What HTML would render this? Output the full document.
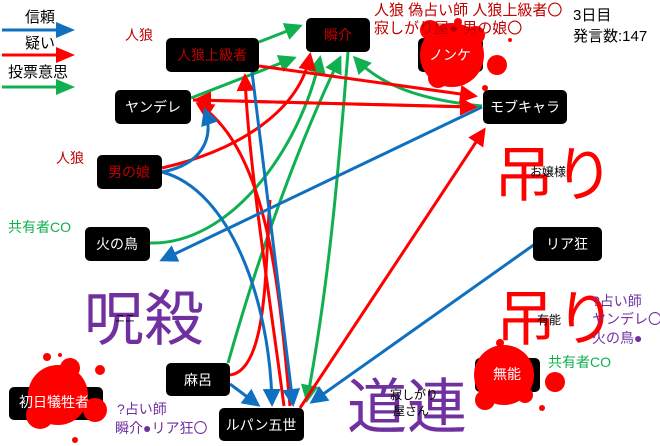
<!DOCTYPE html>
<html><head><meta charset="utf-8"><style>
html,body{margin:0;padding:0;background:#fff;}
svg{display:block;font-family:"Liberation Sans","Noto Sans CJK JP",sans-serif;}
</style></head><body>
<svg width="660" height="446" viewBox="0 0 660 446" xmlns="http://www.w3.org/2000/svg">
<defs>
<marker id="b" markerWidth="6" markerHeight="6" refX="5" refY="3" orient="auto" markerUnits="strokeWidth"><path d="M0,0 L6,3 L0,6 z" fill="#1070c0"/></marker>
<marker id="r" markerWidth="6" markerHeight="6" refX="5" refY="3" orient="auto" markerUnits="strokeWidth"><path d="M0,0 L6,3 L0,6 z" fill="#ff0000"/></marker>
<marker id="g" markerWidth="6" markerHeight="6" refX="5" refY="3" orient="auto" markerUnits="strokeWidth"><path d="M0,0 L6,3 L0,6 z" fill="#10b050"/></marker>
</defs>

<!-- legend -->
<text x="25" y="22" font-size="15" fill="#000">信頼</text>
<line x1="2" y1="30" x2="58" y2="30" stroke="#1070c0" stroke-width="3"/><path d="M56,22 L75,30 L56,38z" fill="#1070c0"/>
<text x="25" y="48" font-size="15" fill="#000">疑い</text>
<line x1="2" y1="55" x2="58" y2="55" stroke="#ff0000" stroke-width="3"/><path d="M56,47 L75,55 L56,63z" fill="#ff0000"/>
<text x="8" y="77" font-size="15" fill="#000">投票意思</text>
<line x1="2" y1="87" x2="58" y2="87" stroke="#10b050" stroke-width="3"/><path d="M56,79 L75,87 L56,95z" fill="#10b050"/>

<!-- big words -->
<text x="84" y="340" font-size="60" fill="#7030a0">呪殺</text>
<text x="115" y="322" font-size="10" fill="#000">ニニ</text>
<text x="494" y="196" font-size="60" fill="#ff0000">吊り</text>
<text x="530" y="176" font-size="12" fill="#000">お嬢様</text>
<text x="496" y="340" font-size="60" fill="#ff0000">吊り</text>
<text x="537" y="324" font-size="12" fill="#000">有能</text>
<text x="347" y="428" font-size="60" fill="#7030a0">道連</text>
<text x="390" y="399" font-size="12" fill="#000">寂しがり</text>
<text x="393" y="415" font-size="12" fill="#000">屋さん</text>

<!-- edges -->
<g fill="none" stroke-width="3">
<line x1="259" y1="42" x2="300" y2="26" stroke="#10b050" marker-end="url(#g)"/>
<line x1="191" y1="98" x2="294" y2="58" stroke="#10b050" marker-end="url(#g)"/>
<path d="M150,243 C230,245 300,150 320,58" stroke="#10b050" marker-end="url(#g)"/>
<path d="M228,363 C260,250 300,140 340,58" stroke="#10b050" marker-end="url(#g)"/>
<path d="M482,106 C420,100 380,85 355,58" stroke="#10b050" marker-end="url(#g)"/>
<path d="M348,52 C340,150 330,280 307,400" stroke="#10b050" marker-end="url(#g)"/>
<line x1="259" y1="66" x2="475" y2="96" stroke="#ff0000" marker-end="url(#r)"/>
<line x1="193" y1="100" x2="475" y2="107" stroke="#ff0000" marker-end="url(#r)"/>
<line x1="470" y1="107" x2="196" y2="100" stroke="#ff0000" marker-end="url(#r)"/>
<path d="M162,168 C240,150 300,110 310,55" stroke="#ff0000" marker-end="url(#r)"/>
<path d="M290,406 C280,300 270,150 198,104" stroke="#ff0000" marker-end="url(#r)"/>
<path d="M284,406 C270,300 248,160 245,76" stroke="#ff0000" marker-end="url(#r)"/>
<path d="M230,375 C270,370 265,250 270,200" stroke="#ff0000"/>
<line x1="300" y1="408" x2="484" y2="130" stroke="#ff0000" marker-end="url(#r)"/>
<path d="M162,172 C200,165 215,140 205,110" stroke="#1070c0" marker-end="url(#b)"/>
<path d="M162,172 C230,190 270,300 272,404" stroke="#1070c0" marker-end="url(#b)"/>
<line x1="252" y1="72" x2="293" y2="404" stroke="#1070c0" marker-end="url(#b)"/>
<line x1="482" y1="107" x2="162" y2="260" stroke="#1070c0" marker-end="url(#b)"/>
<line x1="535" y1="244" x2="312" y2="402" stroke="#1070c0" marker-end="url(#b)"/>
<line x1="230" y1="384" x2="258" y2="405" stroke="#1070c0" marker-end="url(#b)"/>
</g>

<!-- nodes -->
<g font-size="14" text-anchor="middle">
<rect x="166" y="38" width="93" height="34" rx="5" fill="#000"/><text x="212" y="60" fill="#c00000">人狼上級者</text>
<rect x="306" y="18" width="64" height="34" rx="5" fill="#000"/><text x="338" y="40" fill="#c00000">瞬介</text>
<rect x="115" y="90" width="76" height="34" rx="5" fill="#000"/><text x="153" y="112" fill="#fff">ヤンデレ</text>
<rect x="97" y="155" width="65" height="34" rx="5" fill="#000"/><text x="129" y="177" fill="#c00000">男の娘</text>
<rect x="483" y="90" width="84" height="34" rx="5" fill="#000"/><text x="525" y="112" fill="#fff">モブキャラ</text>
<rect x="85" y="227" width="65" height="34" rx="5" fill="#000"/><text x="117" y="249" fill="#fff">火の鳥</text>
<rect x="533" y="227" width="69" height="34" rx="5" fill="#000"/><text x="567" y="249" fill="#fff">リア狂</text>
<rect x="166" y="363" width="64" height="33" rx="5" fill="#000"/><text x="198" y="385" fill="#fff">麻呂</text>
<rect x="219" y="408" width="85" height="33" rx="5" fill="#000"/><text x="261" y="430" fill="#fff">ルパン五世</text>
<rect x="9" y="387" width="94" height="33" rx="5" fill="#000"/>
<rect x="418" y="38" width="65" height="34" rx="5" fill="#000"/>
<rect x="475" y="358" width="65" height="34" rx="5" fill="#000"/>
</g>

<!-- splats -->
<g fill="#ff0000">
<circle cx="452" cy="55" r="32"/><circle cx="430" cy="30" r="10"/><circle cx="476" cy="35" r="9"/><circle cx="438" cy="78" r="10"/>
<circle cx="497" cy="65" r="10"/><circle cx="485" cy="88" r="3"/><circle cx="510" cy="40" r="2"/><circle cx="458" cy="22" r="4"/>
<circle cx="504" cy="375" r="30"/><circle cx="485" cy="400" r="10"/><circle cx="525" cy="395" r="8"/><circle cx="555" cy="382" r="10"/><circle cx="542" cy="408" r="3"/><circle cx="500" cy="343" r="4"/>
<circle cx="58" cy="395" r="30"/><circle cx="40" cy="415" r="14"/><circle cx="95" cy="410" r="12"/><circle cx="70" cy="368" r="10"/>
<circle cx="47" cy="357" r="4"/><circle cx="100" cy="370" r="5"/><circle cx="75" cy="440" r="3"/><circle cx="60" cy="355" r="2"/>
</g>
<g font-size="14" text-anchor="middle" fill="#fff">
<text x="450" y="60">ノンケ</text>
<text x="507" y="379">無能</text>
<text x="54" y="407">初日犠牲者</text>
</g>

<!-- annotations -->
<g font-size="14">
<text x="125" y="40" fill="#c00000">人狼</text>
<text x="56" y="163" fill="#c00000">人狼</text>
<text x="374" y="15" font-size="15" fill="#c00000">人狼 偽占い師 人狼上級者〇</text>
<text x="374" y="33" font-size="15" fill="#c00000">寂しがり屋● 男の娘〇</text>
<text x="573" y="20" font-size="15" fill="#000">3日目</text>
<text x="573" y="41" font-size="15" fill="#000">発言数:147</text>
<text x="8" y="232" fill="#10b050">共有者CO</text>
<text x="548" y="367" fill="#10b050">共有者CO</text>
<text x="592" y="306" fill="#7030a0">?占い師</text>
<text x="592" y="324" fill="#7030a0">ヤンデレ〇</text>
<text x="592" y="343" fill="#7030a0">火の鳥●</text>
<text x="117" y="414" fill="#7030a0">?占い師</text>
<text x="115" y="433" fill="#7030a0">瞬介●リア狂〇</text>
</g>
</svg>
</body></html>
